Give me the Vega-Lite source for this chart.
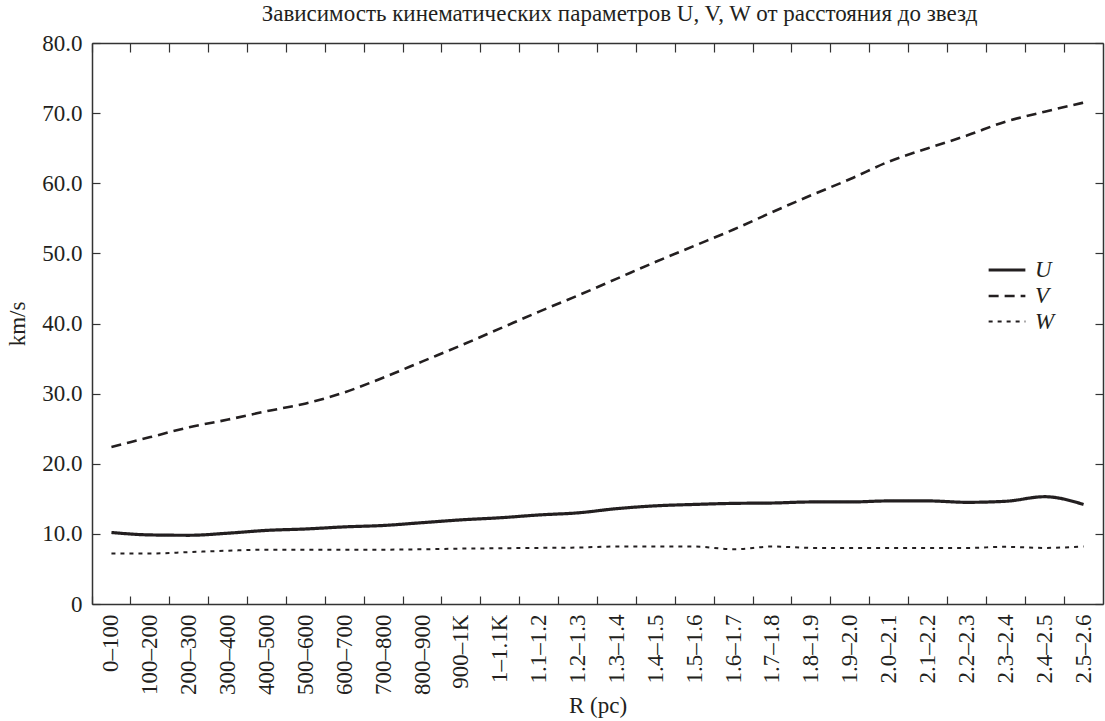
{
  "$schema": "https://vega.github.io/schema/vega-lite/v6.json",
  "width": 1011,
  "height": 561,
  "autosize": {"type": "none"},
  "padding": {"left": 92, "top": 43, "right": 2, "bottom": 117},
  "background": "white",
  "title": {"text": "Зависимость кинематических параметров U, V, W от расстояния до звезд", "font": "Liberation Serif", "fontSize": 23, "fontWeight": "normal", "color": "#231f20", "offset": 6, "anchor": "middle", "dx": 22},
  "config": {
    "view": {"stroke": null},
    "font": "Liberation Serif",
    "axis": {"labelFont": "Liberation Serif", "titleFont": "Liberation Serif", "labelColor": "#231f20", "titleColor": "#231f20", "labelFontSize": 23, "titleFontSize": 23, "titleFontWeight": "normal", "domainColor": "#333333", "tickColor": "#333333", "grid": false, "domainWidth": 1.5, "tickWidth": 1.2}
  },
  "data": {"values": [
    {"R": "0–100", "U": 10.2, "V": 22.4, "W": 7.2},
    {"R": "100–200", "U": 9.85, "V": 23.8, "W": 7.2},
    {"R": "200–300", "U": 9.8, "V": 25.2, "W": 7.4},
    {"R": "300–400", "U": 10.1, "V": 26.3, "W": 7.6},
    {"R": "400–500", "U": 10.5, "V": 27.5, "W": 7.75},
    {"R": "500–600", "U": 10.7, "V": 28.6, "W": 7.75},
    {"R": "600–700", "U": 11.0, "V": 30.2, "W": 7.75},
    {"R": "700–800", "U": 11.2, "V": 32.3, "W": 7.75},
    {"R": "800–900", "U": 11.6, "V": 34.6, "W": 7.8},
    {"R": "900–1K", "U": 12.0, "V": 36.9, "W": 7.9},
    {"R": "1–1.1K", "U": 12.3, "V": 39.3, "W": 7.95},
    {"R": "1.1–1.2", "U": 12.7, "V": 41.7, "W": 8.0},
    {"R": "1.2–1.3", "U": 13.0, "V": 44.0, "W": 8.05},
    {"R": "1.3–1.4", "U": 13.6, "V": 46.4, "W": 8.2},
    {"R": "1.4–1.5", "U": 14.0, "V": 48.8, "W": 8.2},
    {"R": "1.5–1.6", "U": 14.2, "V": 51.1, "W": 8.2},
    {"R": "1.6–1.7", "U": 14.35, "V": 53.4, "W": 7.8},
    {"R": "1.7–1.8", "U": 14.4, "V": 55.9, "W": 8.2},
    {"R": "1.8–1.9", "U": 14.55, "V": 58.3, "W": 8.0},
    {"R": "1.9–2.0", "U": 14.55, "V": 60.6, "W": 8.0},
    {"R": "2.0–2.1", "U": 14.7, "V": 63.1, "W": 8.0},
    {"R": "2.1–2.2", "U": 14.7, "V": 65.0, "W": 8.0},
    {"R": "2.2–2.3", "U": 14.5, "V": 66.8, "W": 8.0},
    {"R": "2.3–2.4", "U": 14.65, "V": 68.8, "W": 8.15},
    {"R": "2.4–2.5", "U": 15.3, "V": 70.2, "W": 8.0},
    {"R": "2.5–2.6", "U": 14.2, "V": 71.5, "W": 8.2}
  ]},
  "transform": [{"fold": ["U", "V", "W"], "as": ["series", "value"]}],
  "layer": [
    {
      "mark": {"type": "line", "interpolate": "monotone", "color": "#231f20"},
      "encoding": {
        "x": {"field": "R", "type": "ordinal", "sort": null, "bandPosition": 0.5,
          "scale": {"type": "band", "paddingInner": 0, "paddingOuter": 0},
          "axis": {"orient": "bottom", "title": "R (pc)", "labelAngle": -90, "labelAlign": "right", "labelBaseline": "middle", "bandPosition": 0, "tickSize": -8, "labelPadding": 18, "titlePadding": 0}},
        "y": {"field": "value", "type": "quantitative",
          "scale": {"domain": [0, 80], "nice": false},
          "axis": {"orient": "left", "title": "km/s", "values": [0, 10, 20, 30, 40, 50, 60, 70, 80], "labelExpr": "datum.value == 0 ? '0' : format(datum.value, '.1f')", "tickSize": -8, "labelPadding": 18, "titlePadding": 12}},
        "strokeDash": {"field": "series", "type": "nominal",
          "scale": {"domain": ["U", "V", "W"], "range": [[1, 0], [10, 6], [4, 5]]},
          "legend": {"title": null, "orient": "none", "legendX": 901, "legendY": 213, "symbolType": "M-1.5,0H1.5", "symbolSize": 600, "symbolStrokeColor": "#231f20", "symbolFillColor": "transparent", "symbolStrokeWidth": 2.5, "labelFont": "Liberation Serif", "labelFontStyle": "italic", "labelFontSize": 23, "labelColor": "#231f20", "rowPadding": -1.5, "labelOffset": 14}},
        "strokeWidth": {"field": "series", "type": "nominal",
          "scale": {"domain": ["U", "V", "W"], "range": [3.2, 2, 2]},
          "legend": null}
      }
    },
    {
      "mark": {"type": "line", "opacity": 0},
      "encoding": {
        "x": {"field": "R", "type": "ordinal", "sort": null, "bandPosition": 0.5,
          "scale": {"type": "band", "paddingInner": 0, "paddingOuter": 0},
          "axis": {"orient": "top", "title": null, "labels": false, "bandPosition": 0, "tickSize": -9}},
        "y": {"field": "value", "type": "quantitative",
          "scale": {"domain": [0, 80], "nice": false},
          "axis": {"orient": "right", "title": null, "labels": false, "values": [0, 10, 20, 30, 40, 50, 60, 70, 80], "tickSize": -8}},
        "detail": {"field": "series"}
      }
    }
  ],
  "resolve": {"axis": {"x": "independent", "y": "independent"}}
}
